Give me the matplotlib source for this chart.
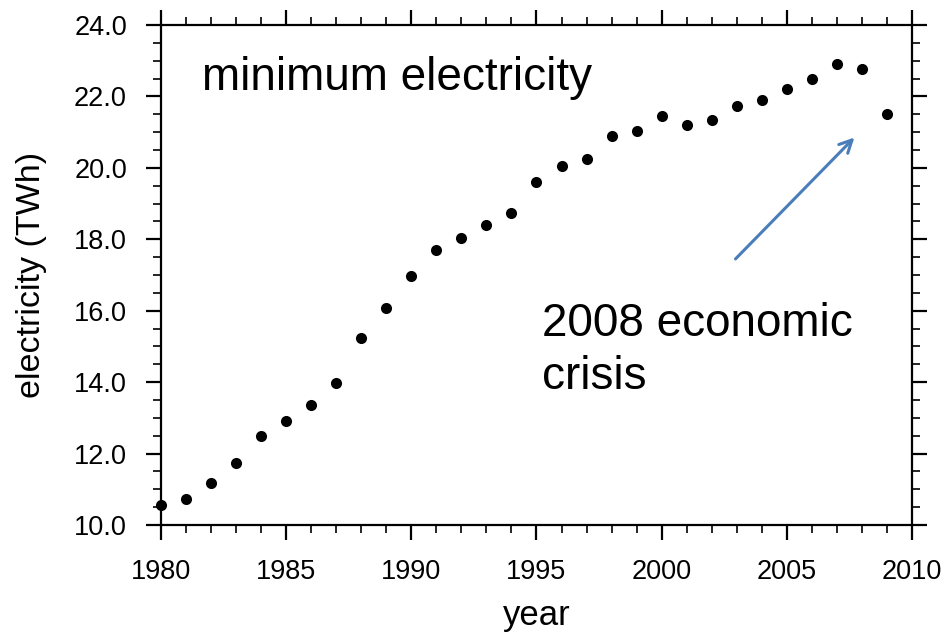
import matplotlib
matplotlib.use("Agg")
import matplotlib.pyplot as plt
from matplotlib.ticker import MultipleLocator, FormatStrFormatter

plt.rcParams['font.family'] = ['Liberation Sans', 'DejaVu Sans']

# Annual minimum electricity (TWh)
years = list(range(1980, 2010))
electricity = [10.55, 10.72, 11.18, 11.74, 12.49, 12.90, 13.36, 13.99, 15.25, 16.08,
               16.98, 17.69, 18.04, 18.39, 18.75, 19.60, 20.06, 20.24, 20.90, 21.02,
               21.46, 21.21, 21.34, 21.74, 21.90, 22.22, 22.48, 22.91, 22.77, 21.50]

x_major_ticks = [1980, 1985, 1990, 1995, 2000, 2005, 2010]
y_major_ticks = [10.0, 12.0, 14.0, 16.0, 18.0, 20.0, 22.0, 24.0]

fig = plt.figure(figsize=(9.47, 6.35), dpi=100)
ax = fig.add_axes([0.170, 0.1732, 0.793, 0.7874])

ax.plot(years, electricity, linestyle='none', marker='o', markersize=8.0,
        color='black', markeredgewidth=0, clip_on=False, zorder=5)

ax.set_xlim(1980, 2010)
ax.set_ylim(10, 24)
ax.set_xticks(x_major_ticks)
ax.set_yticks(y_major_ticks)
ax.xaxis.set_minor_locator(MultipleLocator(1))
ax.yaxis.set_minor_locator(MultipleLocator(0.5))
ax.yaxis.set_major_formatter(FormatStrFormatter('%.1f'))

for s in ax.spines.values():
    s.set_linewidth(1.6)
    s.set_color('black')

ax.tick_params(which='both', direction='out', top=True, right=True,
               labeltop=False, labelright=False, color='black')
ax.tick_params(which='major', length=11, width=1.6, labelsize=19.5, pad=13.5)
ax.tick_params(which='minor', length=5.8, width=1.2)

ax.set_xlabel('year', fontsize=25)
ax.set_ylabel('electricity (TWh)', fontsize=24.5)
ax.xaxis.set_label_coords(0.5, -0.148)
ax.yaxis.set_label_coords(-0.152, 0.5)

ax.text(0.0546, 0.87, 'minimum electricity', transform=ax.transAxes,
        fontsize=33, ha='left', va='baseline')
ax.text(0.508, 0.272, '2008 economic\ncrisis', transform=ax.transAxes,
        fontsize=33, ha='left', va='baseline', linespacing=1.27)

ax.annotate('', xy=(2007.7, 20.85), xytext=(2002.95, 20.85 - 3.4),
            arrowprops=dict(arrowstyle='->,head_length=0.9,head_width=0.45',
                            color='#4a7ebb', lw=2.2, shrinkA=0, shrinkB=0))

fig.savefig('out.png', dpi=100)
